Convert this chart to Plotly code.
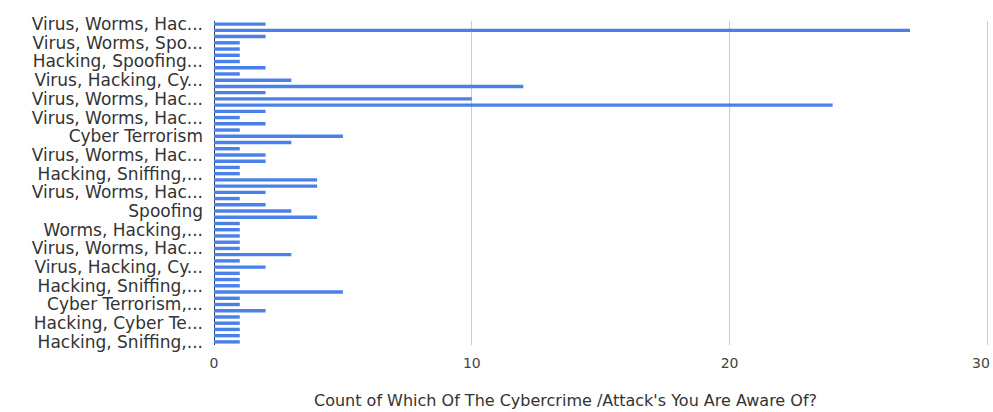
import plotly.graph_objects as go

# Answer combinations (one bar each), in the sheet's order
categories = [
    "Virus, Worms, Hacking, Spoofing, Sniffing, Cyber Terrorism",
    "Virus, Worms, Hacking",
    "Virus, Worms, Sniffing",
    "Virus, Worms, Spoofing, Sniffing",
    "Virus, Spoofing",
    "Worms, Sniffing",
    "Hacking, Spoofing, Sniffing",
    "Hacking, Spoofing",
    "Virus, Sniffing",
    "Virus, Hacking, Cyber Terrorism",
    "Virus, Hacking",
    "Virus, Worms, Spoofing",
    "Virus, Worms, Hacking, Sniffing",
    "Hacking",
    "Virus, Worms, Hacking, Sniffing, Cyber Terrorism",
    "Virus, Worms, Hacking, Cyber Terrorism",
    "Worms, Hacking, Sniffing",
    "Virus, Spoofing, Sniffing",
    "Cyber Terrorism",
    "Virus",
    "Worms, Spoofing",
    "Virus, Worms, Hacking, Spoofing, Cyber Terrorism",
    "Virus, Hacking, Spoofing",
    "Worms, Cyber Terrorism",
    "Hacking, Sniffing, Cyber Terrorism",
    "Virus, Worms",
    "Hacking, Sniffing",
    "Virus, Worms, Hacking, Spoofing, Sniffing",
    "Spoofing, Sniffing",
    "Virus, Hacking, Sniffing",
    "Spoofing",
    "Worms",
    "Sniffing",
    "Worms, Hacking, Spoofing",
    "Virus, Cyber Terrorism",
    "Worms, Hacking",
    "Virus, Worms, Hacking, Spoofing",
    "Virus, Worms, Cyber Terrorism",
    "Spoofing, Cyber Terrorism",
    "Virus, Hacking, Cyber Terrorism, Sniffing",
    "Virus, Hacking, Spoofing, Sniffing",
    "Worms, Hacking, Cyber Terrorism",
    "Hacking, Sniffing, Worms",
    "Hacking, Spoofing, Cyber Terrorism",
    "Sniffing, Cyber Terrorism",
    "Cyber Terrorism, Hacking",
    "Worms, Hacking, Spoofing, Sniffing",
    "Virus, Spoofing, Cyber Terrorism",
    "Hacking, Cyber Terrorism",
    "Worms, Spoofing, Sniffing",
    "Virus, Worms, Spoofing, Cyber Terrorism",
    "Hacking, Sniffing, Spoofing, Cyber Terrorism",
]

counts = [
    2, 27, 2, 1, 1, 1, 1, 2, 1, 3,
    12, 2, 10, 24, 2, 1, 2, 1, 5, 3,
    1, 2, 2, 1, 1, 4, 4, 2, 1, 2,
    3, 4, 1, 1, 1, 1, 1, 3, 1, 2,
    1, 1, 1, 5, 1, 1, 2, 1, 1, 1,
    1, 1,
]

# Every third category gets a (shortened) label
label_every = 3
short_labels = [
    "Virus, Worms, Hac...",
    "Virus, Worms, Spo...",
    "Hacking, Spoofing...",
    "Virus, Hacking, Cy...",
    "Virus, Worms, Hac...",
    "Virus, Worms, Hac...",
    "Cyber Terrorism",
    "Virus, Worms, Hac...",
    "Hacking, Sniffing,...",
    "Virus, Worms, Hac...",
    "Spoofing",
    "Worms, Hacking,...",
    "Virus, Worms, Hac...",
    "Virus, Hacking, Cy...",
    "Hacking, Sniffing,...",
    "Cyber Terrorism,...",
    "Hacking, Cyber Te...",
    "Hacking, Sniffing,...",
]

x_ticks = [0, 10, 20, 30]
x_max = 30.18
x_title = "Count of Which Of The Cybercrime /Attack's You Are Aware Of?"

fig = go.Figure(
    go.Bar(
        x=counts,
        y=categories,
        orientation="h",
        marker=dict(color="#4a80e8", line=dict(width=0)),
    )
)

tick_font = dict(family="DejaVu Sans, Arial, sans-serif", size=14, color="#444444")

annotations = [
    dict(
        text=x_title,
        xref="paper",
        yref="paper",
        x=0.4515,
        y=-0.17,
        xanchor="center",
        yanchor="middle",
        showarrow=False,
        font=dict(size=16, color="#333333"),
    ),
    # last tick label, pinned against the right edge of the page
    dict(
        text=str(x_ticks[-1]),
        xref="x",
        yref="paper",
        x=x_max,
        y=-0.055,
        xanchor="right",
        yanchor="middle",
        showarrow=False,
        font=tick_font,
    ),
]

fig.update_layout(
    width=993,
    height=412,
    margin=dict(l=214, r=1, t=21, b=67),
    paper_bgcolor="white",
    plot_bgcolor="white",
    bargap=0.45,
    showlegend=False,
    font=dict(family="DejaVu Sans, Arial, sans-serif", color="#333333"),
    annotations=annotations,
)

fig.update_yaxes(
    type="category",
    autorange="reversed",
    tickmode="array",
    tickvals=categories[::label_every],
    ticktext=short_labels,
    tickfont=dict(size=17, color="#333333"),
    showgrid=False,
    showline=False,
    ticks="",
    ticklabelstandoff=10,
)

fig.update_xaxes(
    range=[0, x_max],
    tickmode="array",
    tickvals=x_ticks,
    ticktext=[str(t) for t in x_ticks],
    tickfont=tick_font,
    showgrid=True,
    gridcolor="#cccccc",
    gridwidth=1,
    zeroline=True,
    zerolinecolor="#333333",
    zerolinewidth=1,
    showline=False,
    ticks="",
    ticklabelstandoff=8,
)

fig.write_html("out.html")
